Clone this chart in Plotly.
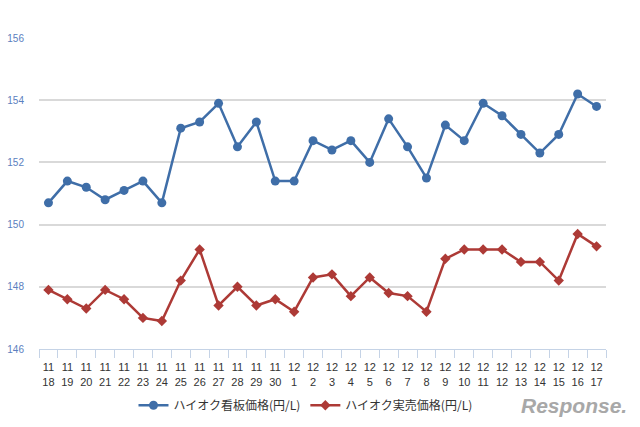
import plotly.graph_objects as go

months = ["11"] * 13 + ["12"] * 17
days = [str(d) for d in range(18, 31)] + [str(d) for d in range(1, 18)]
categories = [f"{m}<br>{d}" for m, d in zip(months, days)]

signboard = [150.7, 151.4, 151.2, 150.8, 151.1, 151.4, 150.7, 153.1, 153.3, 153.9,
             152.5, 153.3, 151.4, 151.4, 152.7, 152.4, 152.7, 152.0, 153.4, 152.5,
             151.5, 153.2, 152.7, 153.9, 153.5, 152.9, 152.3, 152.9, 154.2, 153.8]
actual = [147.9, 147.6, 147.3, 147.9, 147.6, 147.0, 146.9, 148.2, 149.2, 147.4,
          148.0, 147.4, 147.6, 147.2, 148.3, 148.4, 147.7, 148.3, 147.8, 147.7,
          147.2, 148.9, 149.2, 149.2, 149.2, 148.8, 148.8, 148.2, 149.7, 149.3]

name_a = "ハイオク看板価格(円/L)"
name_b = "ハイオク実売価格(円/L)"
y_ticks = [146, 148, 150, 152, 154, 156]

font_family = "Noto Sans CJK JP, Noto Sans, sans-serif"

fig = go.Figure()
fig.add_trace(go.Scatter(
    x=categories, y=signboard, name=name_a, mode="lines+markers",
    line=dict(color="#3f6ea8", width=2.5),
    marker=dict(symbol="circle", size=9, color="#3f6ea8"),
))
fig.add_trace(go.Scatter(
    x=categories, y=actual, name=name_b, mode="lines+markers",
    line=dict(color="#ad3a36", width=2.5),
    marker=dict(symbol="diamond", size=8, color="#ad3a36"),
))

fig.update_layout(
    width=640, height=427,
    margin=dict(l=39, r=34, t=38, b=78),
    paper_bgcolor="white", plot_bgcolor="white",
    font=dict(family=font_family, color="#333333"),
    showlegend=True,
    legend=dict(orientation="h", x=0.47, xanchor="center",
                yref="container", y=0.085, yanchor="top",
                font=dict(size=12, color="#333333"), itemwidth=30,
                traceorder="normal"),
    xaxis=dict(
        type="category", range=[-0.5, len(categories) - 0.5], automargin=False,
        showgrid=False, showline=True, linecolor="#c5d3e6", linewidth=1,
        ticks="outside", tickson="boundaries", ticklen=8, tickcolor="#c5d3e6",
        tickfont=dict(size=11, color="#333333", family="Liberation Sans, Arial, sans-serif"),
        tickangle=0, ticklabelstandoff=8,
    ),
    yaxis=dict(
        range=[146, 156], tickvals=y_ticks, showgrid=True, automargin=False,
        gridcolor="#d9d9d9", gridwidth=1.5, zeroline=False, showline=False,
        tickfont=dict(size=10, color="#5b80c0", family="Liberation Sans, Arial, sans-serif"),
        ticks="", ticklabelstandoff=14,
    ),
    annotations=[dict(
        text="<i><b>Response.</b></i>", x=1.04, y=-0.183, xref="paper", yref="paper",
        xanchor="right", yanchor="middle",
        showarrow=False, font=dict(size=21, color="#a8a8a8", family="Liberation Sans"),
    )],
)

fig.write_html("out.html")
